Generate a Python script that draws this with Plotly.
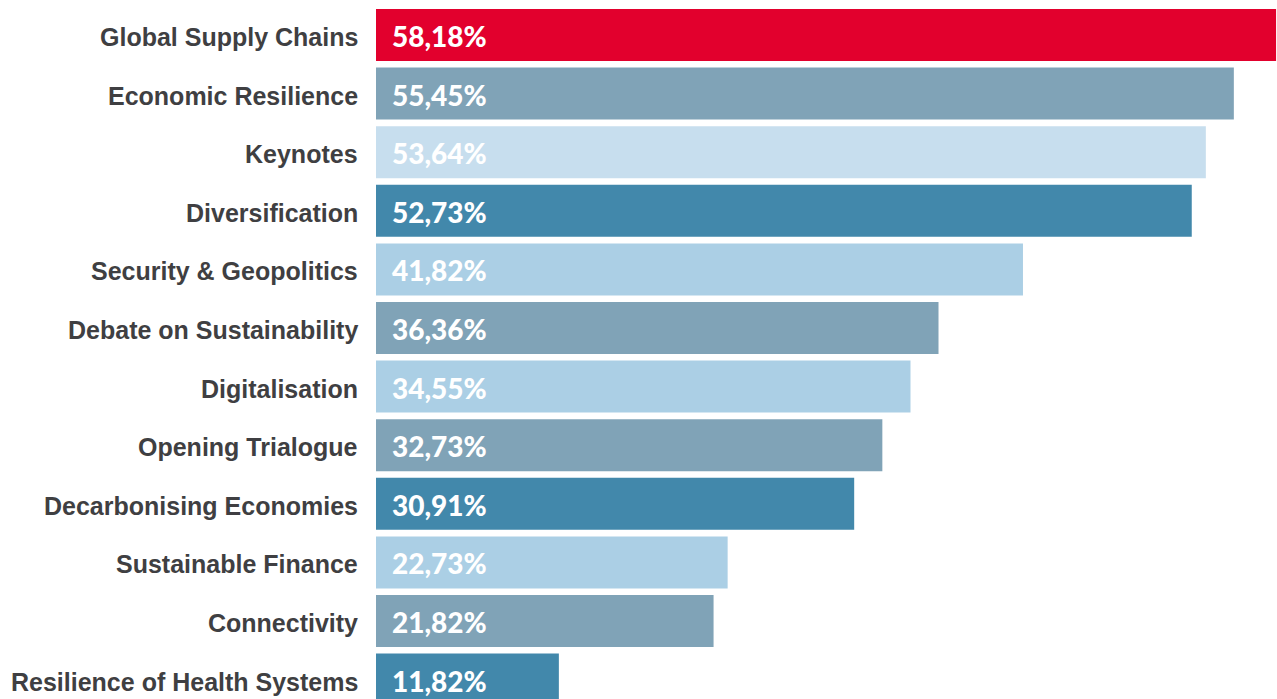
import plotly.graph_objects as go

topics = [
    "Global Supply Chains",
    "Economic Resilience",
    "Keynotes",
    "Diversification",
    "Security & Geopolitics",
    "Debate on Sustainability",
    "Digitalisation",
    "Opening Trialogue",
    "Decarbonising Economies",
    "Sustainable Finance",
    "Connectivity",
    "Resilience of Health Systems",
]
shares = [58.18, 55.45, 53.64, 52.73, 41.82, 36.36, 34.55, 32.73, 30.91, 22.73, 21.82, 11.82]

RED = "#E2002D"
SLATE = "#80A3B7"
PALE = "#C7DEEE"
TEAL = "#4288AB"
SKY = "#ABCFE5"
bar_colors = [RED, SLATE, PALE, TEAL, SKY, SLATE, SKY, SLATE, TEAL, SKY, SLATE, TEAL]


def fmt(v):
    return f"{v:.2f}".replace(".", ",") + "%"


fig = go.Figure(
    go.Bar(
        x=shares,
        y=topics,
        orientation="h",
        marker=dict(color=bar_colors, line=dict(width=0)),
        hoverinfo="skip",
    )
)

for name, v in zip(topics, shares):
    # value inside the bar, near its base
    fig.add_annotation(
        x=0, y=name, xref="x", yref="y",
        text=fmt(v), showarrow=False,
        xanchor="left", yanchor="middle", xshift=14, yshift=-1,
        font=dict(family="Lato", size=28, color="white", weight=900),
    )
    # topic name to the left of the bar
    fig.add_annotation(
        x=0, y=name, xref="x", yref="y",
        text=name, showarrow=False,
        xanchor="right", yanchor="middle", xshift=-16, yshift=-2,
        font=dict(family="Liberation Sans", size=25, color="#3F3F42", weight="bold"),
    )

fig.update_layout(
    width=1277, height=699,
    margin=dict(l=376, r=0, t=0, b=0),
    paper_bgcolor="white", plot_bgcolor="white",
    bargap=0.113,
    showlegend=False,
    xaxis=dict(range=[0, 58.24], visible=False),
    yaxis=dict(
        range=[11.331, -0.597],
        showgrid=False, zeroline=False, showline=False,
        showticklabels=False, ticks="",
    ),
)

fig.write_html("out.html")
